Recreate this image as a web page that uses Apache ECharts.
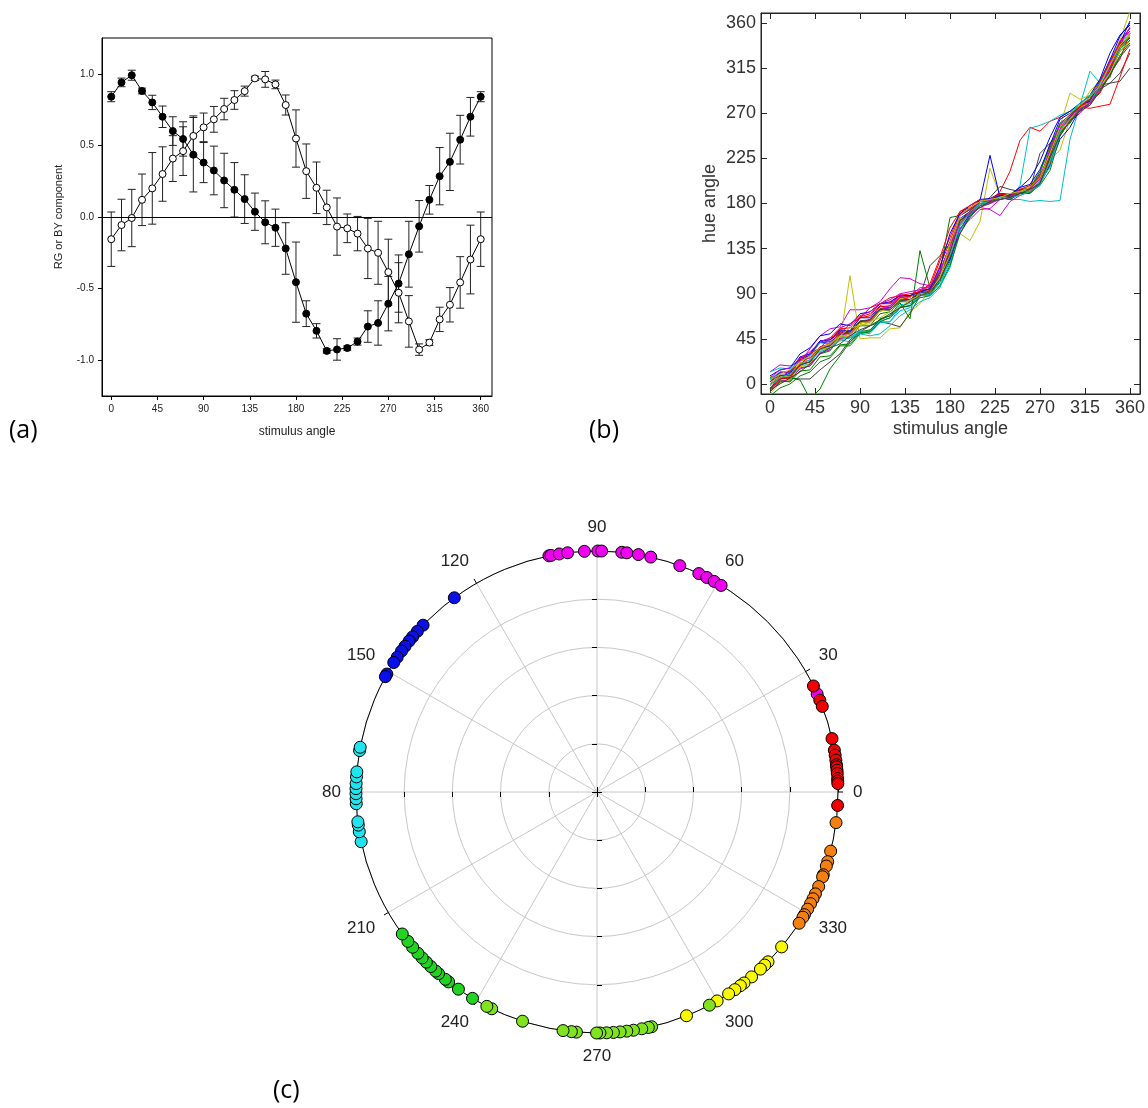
<!DOCTYPE html>
<html>
<head>
<meta charset="utf-8">
<script src="https://cdn.jsdelivr.net/npm/echarts@6/dist/echarts.min.js"></script>
<style>
html, body { margin: 0; padding: 0; background: #fff; }
#main { width: 1148px; height: 1108px; }
</style>
</head>
<body>
<div id="main"></div>
<script>
// ---- panel (a): RG / BY components vs stimulus angle ----
var stimAngles = [0,10,20,30,40,50,60,70,80,90,100,110,120,130,140,150,160,170,180,190,200,210,220,230,240,250,260,270,280,290,300,310,320,330,340,350,360];
var filledVals = [0.84,0.94,0.99,0.88,0.80,0.70,0.60,0.545,0.435,0.38,0.325,0.255,0.19,0.125,0.037,-0.037,-0.075,-0.22,-0.455,-0.675,-0.795,-0.935,-0.925,-0.915,-0.87,-0.765,-0.74,-0.605,-0.465,-0.26,-0.065,0.12,0.285,0.385,0.54,0.70,0.84];
var filledErr = [0.035,0.03,0.035,0.02,0.05,0.075,0.1,0.12,0.26,0.14,0.17,0.19,0.19,0.17,0.13,0.15,0.13,0.18,0.28,0.09,0.05,0.015,0.075,0.015,0.025,0.11,0.155,0.19,0.2,0.23,0.18,0.1,0.2,0.2,0.17,0.135,0.035];
var openVals = [-0.155,-0.056,-0.007,0.12,0.2,0.3,0.408,0.46,0.566,0.626,0.682,0.754,0.817,0.879,0.968,0.961,0.926,0.782,0.548,0.32,0.204,0.067,-0.067,-0.079,-0.116,-0.22,-0.25,-0.385,-0.529,-0.729,-0.926,-0.877,-0.715,-0.613,-0.457,-0.297,-0.155];
var openErr = [0.19,0.18,0.2,0.18,0.25,0.19,0.16,0.17,0.14,0.1,0.09,0.075,0.065,0.035,0.015,0.055,0.03,0.07,0.2,0.19,0.18,0.12,0.2,0.1,0.12,0.21,0.22,0.23,0.21,0.18,0.04,0.02,0.085,0.12,0.18,0.24,0.19];
var angleTicks = [0,45,90,135,180,225,270,315,360];
var compTicks = [-1,-0.5,0,0.5,1];

// ---- panel (b): hue angle per observer ----
var run1 = [2,12,10,24,28,42,40,52,50,62,64,74,76,84,84,90,92,112,138,168,174,182,182,188,186,192,194,208,228,258,266,278,282,300,316,342,355];
var run2 = [-8,2,3,16,18,30,33,46,46,58,58,70,72,82,82,90,91,104,122,158,168,180,180,187,186,193,192,202,218,252,260,275,278,296,306,334,343];
var run3 = [0,8,8,20,22,36,38,50,52,66,68,80,80,88,87,92,95,118,142,170,175,182,182,192,212,243,256,252,262,266,272,272,282,290,310,324,350];
var run4 = [-5,6,6,18,20,34,34,44,42,52,50,62,62,76,78,90,88,104,125,163,170,180,180,186,184,184,182,183,182,183,244,278,312,300,324,338,352];
var run5 = [12,19,18,22,35,48,55,57,74,74,76,82,95,106,105,100,98,108,135,160,172,176,174,168,182,188,192,200,225,248,262,270,280,292,312,332,340];
var run6 = [8,5,12,16,30,32,42,42,108,45,46,46,55,56,72,80,94,98,128,150,143,162,215,188,188,188,196,198,224,233,264,276,292,303,322,343,372];
var run7 = [0,5,6,5,5,14,22,30,44,52,58,62,60,57,70,88,118,128,140,155,168,178,186,197,194,192,195,210,240,255,265,272,288,298,300,310,330];
var run8 = [-5,8,10,26,28,42,42,54,53,66,66,78,76,86,84,92,90,106,132,165,172,183,228,186,184,190,190,200,218,244,256,274,280,302,316,340,362];
var run9 = [0,6,6,4,-15,-5,15,28,42,52,54,64,68,77,78,88,90,102,128,162,172,182,181,186,185,191,191,198,213,247,263,276,280,298,312,334,346];
var run10 = [2,12,12,25,30,43,44,55,56,67,70,80,81,89,88,93,97,123,146,172,176,184,183,189,189,194,195,204,226,254,264,276,275,277,279,306,334];
var run11 = [5,12,12,23,26,37,38,47,46,53,52,63,66,79,80,88,89,101,120,155,166,178,180,186,185,198,255,258,262,268,272,278,288,304,318,337,348];
var run12 = [-8,3,4,15,18,31,34,45,48,61,63,75,76,87,86,94,94,107,126,155,164,174,175,184,187,194,195,208,230,260,268,278,283,300,314,336,350];
var run13 = [-10,1,4,17,20,35,36,47,48,59,60,73,74,85,86,94,97,111,133,165,168,180,181,188,187,194,197,212,233,257,290,284,288,300,320,336,350];
var run14 = [0,6,6,19,22,35,36,47,50,61,62,73,74,83,82,90,93,109,130,163,172,182,183,190,189,194,194,230,240,250,262,272,282,294,300,302,315];
var run15 = [4,11,12,27,30,43,44,53,52,61,62,73,74,83,82,90,91,107,124,153,170,184,185,190,189,196,199,214,238,264,270,278,282,302,323,347,360];
var run16 = [-5,3,2,13,14,27,28,39,40,51,53,65,68,81,65,133,96,112,166,168,174,182,182,188,188,194,195,212,236,260,268,278,284,302,318,340,345];
var run17 = [-6,5,6,21,24,37,40,51,50,61,64,77,78,87,84,92,93,107,130,161,172,182,183,188,187,192,193,202,220,252,264,276,281,298,313,337,345];
var run18 = [12,16,15,23,28,41,40,47,46,52,52,61,62,73,76,88,89,97,116,153,168,180,181,187,186,192,194,202,216,250,262,274,281,298,310,332,342];
var run19 = [2,11,12,23,26,37,38,49,50,61,62,75,78,89,88,96,96,113,138,169,174,182,183,188,188,194,194,208,226,254,264,276,284,302,320,342,352];
var run20 = [0,7,8,21,24,35,36,47,50,61,62,73,74,83,82,90,91,107,128,161,170,180,181,186,186,192,193,204,226,252,264,276,280,296,310,332,342];
var run21 = [2,9,8,19,22,35,38,49,52,63,64,75,74,83,84,92,95,111,132,163,170,180,181,188,187,193,195,206,228,256,266,277,284,302,316,338,345];
var run22 = [8,14,16,30,36,48,50,60,58,70,72,80,82,88,88,92,95,116,150,170,178,184,184,188,188,196,205,222,246,266,272,280,288,304,330,348,358];
var run23 = [-12,-4,0,8,12,22,26,38,38,50,52,62,66,76,78,86,88,98,118,150,166,178,180,186,184,190,190,200,225,250,262,274,280,294,308,328,340];
var run24 = [-4,4,14,18,30,36,46,50,60,66,76,80,86,88,90,92,100,126,156,172,178,184,184,190,188,194,198,206,232,256,268,276,286,302,322,340,355];
var run25 = [-2,6,10,20,24,32,36,44,46,50,48,50,58,68,74,82,86,96,128,158,172,180,182,184,186,188,192,198,222,252,270,280,288,300,318,334,348];
var run26 = [6,14,16,26,32,42,46,56,60,68,72,80,84,90,92,94,98,112,138,160,170,176,180,184,186,192,196,204,234,258,268,274,280,296,316,338,356];
var run27 = [4,10,14,22,28,36,40,48,56,58,62,66,72,76,84,88,92,106,140,168,176,182,184,186,190,192,196,206,230,256,270,278,286,298,318,338,348];
var run28 = [-6,0,6,12,20,30,36,40,48,54,58,64,70,76,82,88,92,104,126,150,168,176,182,184,186,190,194,200,226,248,262,272,278,292,308,326,338];
var runColors = ['#0000ff','#008000','#ff0000','#00c0c8','#d000d0','#c0c000','#404040'];

// ---- panel (c): hue angles on the colour circle ----
var hueMagenta = [101.5,101,99,97,93,89.8,88.9,84.1,82.9,80.1,77.1,69.9,65.0,62.9,60.9,59.0,24.0];
var hueRed = [26.1,22.4,20.8,12.8,10.0,8.8,7.6,6.5,6.0,5.2,4.4,3.2,2.6,2.0,356.8];
var hueOrange = [352.7,345.8,343.2,342.1,339.9,339.4,336.9,335.0,333.7,332.4,330.9,329.4,328.7,327.0];
var hueYellow = [320.0,315.2,314.1,312.7,309.9,307.6,306.5,304.9,303.1,299.9,291.8];
var hueLime = [297.8,283.1,282.3,280.7,278.7,277.1,275.5,273.9,272.3,270.7,269.9,265.1,263.9,261.9,252.0,244.1,242.8];
var hueGreen = [238.9,234.9,232.0,231.0,228.9,228.0,226.4,224.9,223.5,222.0,220.1,218.3,216.1];
var hueCyan = [191.9,189.5,187.9,187.1,182.8,181.6,180.4,179.2,178.0,176.4,175.2,170.1,169.3];
var hueBlue = [126.3,136.2,138.2,139.9,141.2,142.8,144.2,146.0,147.5,150.7,151.4];

var FONT = 'Liberation Sans, Arial, sans-serif';

function errBars(vals, errs) {
    return stimAngles.map(function (s, i) { return [s, vals[i] - errs[i], vals[i] + errs[i]]; });
}
function renderErr(params, api) {
    var x = api.value(0);
    var top = api.coord([x, api.value(2)]);
    var bot = api.coord([x, api.value(1)]);
    var w = 4;
    var st = { stroke: '#222', lineWidth: 1 };
    return {
        type: 'group',
        children: [
            { type: 'line', shape: { x1: top[0], y1: top[1], x2: bot[0], y2: bot[1] }, style: st },
            { type: 'line', shape: { x1: top[0] - w, y1: top[1], x2: top[0] + w, y2: top[1] }, style: st },
            { type: 'line', shape: { x1: bot[0] - w, y1: bot[1], x2: bot[0] + w, y2: bot[1] }, style: st }
        ]
    };
}

var runs = [run1,run2,run3,run4,run5,run6,run7,run8,run9,run10,run11,run12,run13,run14,
            run15,run16,run17,run18,run19,run20,run21,run22,run23,run24,run25,run26,run27,run28];
var runSeries = runs.map(function (r, k) {
    return {
        type: 'line', xAxisIndex: 1, yAxisIndex: 1,
        data: stimAngles.map(function (s, i) { return [s, r[i]]; }),
        showSymbol: false, symbol: 'none',
        lineStyle: { width: 1, color: runColors[k % 7] },
        silent: true
    };
});

function hueSeries(arr, color) {
    return {
        type: 'scatter', coordinateSystem: 'polar', polarIndex: 0,
        data: arr.map(function (h) { return [5, h]; }),
        symbolSize: 12,
        itemStyle: { color: color, borderColor: '#000', borderWidth: 1, opacity: 1 },
        z: 5
    };
}

function extraRadius(idx) {
    return {
        polarIndex: idx, type: 'value', min: 0, max: 5, interval: 1,
        axisLine: { show: false },
        axisTick: { show: true, length: 5, lineStyle: { color: '#000' } },
        axisLabel: { show: false },
        splitLine: { show: false }
    };
}
function extraAngle(idx, start) {
    return {
        polarIndex: idx, type: 'value', min: 0, max: 360, startAngle: start, clockwise: false,
        axisLine: { show: false }, axisTick: { show: false }, axisLabel: { show: false },
        splitLine: { show: false }
    };
}

var chart = echarts.init(document.getElementById('main'));
chart.setOption({
    animation: false,
    backgroundColor: '#fff',
    grid: [
        { left: 102, top: 38, width: 390, height: 358, show: true, borderColor: '#000', borderWidth: 1 },
        { left: 761, top: 13, width: 381, height: 381, show: true, borderColor: '#262626', borderWidth: 1 }
    ],
    xAxis: [
        {
            gridIndex: 0, type: 'value', min: -9, max: 371,
            axisLine: { onZero: false, lineStyle: { color: '#000' } },
            axisTick: { customValues: angleTicks, length: 4, lineStyle: { color: '#000' } },
            axisLabel: { customValues: angleTicks, fontSize: 10, color: '#222', margin: 8, fontFamily: FONT },
            splitLine: { show: false },
            name: 'stimulus angle', nameLocation: 'middle', nameGap: 30,
            nameTextStyle: { fontSize: 12, color: '#222', fontFamily: FONT }
        },
        {
            gridIndex: 1, type: 'value', min: -9, max: 370, position: 'bottom',
            axisLine: { onZero: false, lineStyle: { color: '#262626' } },
            axisTick: { customValues: angleTicks, inside: true, length: 6, lineStyle: { color: '#262626' } },
            axisLabel: { customValues: angleTicks, fontSize: 18, color: '#333', margin: 5, fontFamily: FONT },
            splitLine: { show: false },
            name: 'stimulus angle', nameLocation: 'middle', nameGap: 26,
            nameTextStyle: { fontSize: 18, color: '#333', fontFamily: FONT }
        },
        {
            gridIndex: 1, type: 'value', min: -9, max: 370, position: 'top',
            axisLine: { onZero: false, lineStyle: { color: '#262626' } },
            axisTick: { customValues: angleTicks, inside: true, length: 6, lineStyle: { color: '#262626' } },
            axisLabel: { show: false },
            splitLine: { show: false }
        }
    ],
    yAxis: [
        {
            gridIndex: 0, type: 'value', min: -1.25, max: 1.25,
            axisLine: { onZero: false, lineStyle: { color: '#000' } },
            axisTick: { customValues: compTicks, length: 4, lineStyle: { color: '#000' } },
            axisLabel: {
                customValues: compTicks, fontSize: 10, color: '#222', margin: 8, fontFamily: FONT,
                formatter: function (v) { return Number(v).toFixed(1); }
            },
            splitLine: { show: false },
            name: 'RG or BY component', nameLocation: 'middle', nameGap: 38,
            nameTextStyle: { fontSize: 11, color: '#222', fontFamily: FONT }
        },
        {
            gridIndex: 1, type: 'value', min: -10, max: 370, position: 'left',
            axisLine: { onZero: false, lineStyle: { color: '#262626' } },
            axisTick: { customValues: angleTicks, inside: true, length: 6, lineStyle: { color: '#262626' } },
            axisLabel: { customValues: angleTicks, fontSize: 18, color: '#333', margin: 5, fontFamily: FONT },
            splitLine: { show: false },
            name: 'hue angle', nameLocation: 'middle', nameGap: 42,
            nameTextStyle: { fontSize: 18, color: '#333', fontFamily: FONT }
        },
        {
            gridIndex: 1, type: 'value', min: -10, max: 370, position: 'right',
            axisLine: { onZero: false, lineStyle: { color: '#262626' } },
            axisTick: { customValues: angleTicks, inside: true, length: 6, lineStyle: { color: '#262626' } },
            axisLabel: { show: false },
            splitLine: { show: false }
        }
    ],
    polar: [
        { center: [597, 792], radius: 241 },
        { center: [597, 792], radius: 241 },
        { center: [597, 792], radius: 241 },
        { center: [597, 792], radius: 241 }
    ],
    angleAxis: [
        {
            polarIndex: 0, type: 'value', min: 0, max: 360, interval: 30, startAngle: 0, clockwise: false,
            axisLine: { lineStyle: { color: '#000', width: 1 } },
            axisTick: { show: true, length: 5, lineStyle: { color: '#000' } },
            axisLabel: {
                margin: 15, fontSize: 17, color: '#222', fontFamily: FONT,
                formatter: function (v) { return v === 360 ? '' : (v === 180 ? '80' : String(v)); }
            },
            splitLine: { show: true, lineStyle: { color: '#c8c8c8', width: 1 } }
        },
        extraAngle(1, 90), extraAngle(2, 180), extraAngle(3, 270)
    ],
    radiusAxis: [
        {
            polarIndex: 0, type: 'value', min: 0, max: 5, interval: 1,
            axisLine: { show: false },
            axisTick: { show: true, length: 5, lineStyle: { color: '#000' } },
            axisLabel: { show: false },
            splitLine: { show: true, lineStyle: { color: '#c8c8c8', width: 1 } }
        },
        extraRadius(1), extraRadius(2), extraRadius(3)
    ],
    graphic: [
        { type: 'text', left: 9, top: 418, style: { text: '(a)', font: '25px "Open Sans", sans-serif', fill: '#000' } },
        { type: 'text', left: 589, top: 418, style: { text: '(b)', font: '25px "Open Sans", sans-serif', fill: '#000' } },
        { type: 'text', left: 273, top: 1078, style: { text: '(c)', font: '25px "Open Sans", sans-serif', fill: '#000' } }
    ],
    series: [
        {
            type: 'custom', xAxisIndex: 0, yAxisIndex: 0, renderItem: renderErr,
            data: errBars(filledVals, filledErr), encode: { x: 0, y: [1, 2] }, z: 1, silent: true
        },
        {
            type: 'custom', xAxisIndex: 0, yAxisIndex: 0, renderItem: renderErr,
            data: errBars(openVals, openErr), encode: { x: 0, y: [1, 2] }, z: 1, silent: true
        },
        {
            type: 'line', xAxisIndex: 0, yAxisIndex: 0,
            data: stimAngles.map(function (s, i) { return [s, filledVals[i]]; }),
            symbol: 'circle', symbolSize: 7, showSymbol: true,
            itemStyle: { color: '#000', borderColor: '#000', borderWidth: 1 },
            lineStyle: { color: '#000', width: 1 }, z: 3,
            markLine: {
                silent: true, symbol: 'none', label: { show: false },
                lineStyle: { color: '#000', width: 1, type: 'solid' },
                data: [{ yAxis: 0 }]
            }
        },
        {
            type: 'line', xAxisIndex: 0, yAxisIndex: 0,
            data: stimAngles.map(function (s, i) { return [s, openVals[i]]; }),
            symbol: 'circle', symbolSize: 7, showSymbol: true,
            itemStyle: { color: '#fff', borderColor: '#000', borderWidth: 1 },
            lineStyle: { color: '#000', width: 1 }, z: 4
        }
    ].concat(runSeries).concat([
        hueSeries(hueMagenta, '#f000f0'),
        hueSeries(hueRed, '#f00000'),
        hueSeries(hueOrange, '#f58010'),
        hueSeries(hueYellow, '#f8f800'),
        hueSeries(hueLime, '#7fe31f'),
        hueSeries(hueGreen, '#22d322'),
        hueSeries(hueCyan, '#22e4ee'),
        hueSeries(hueBlue, '#0a10e6')
    ])
});
</script>
</body>
</html>
